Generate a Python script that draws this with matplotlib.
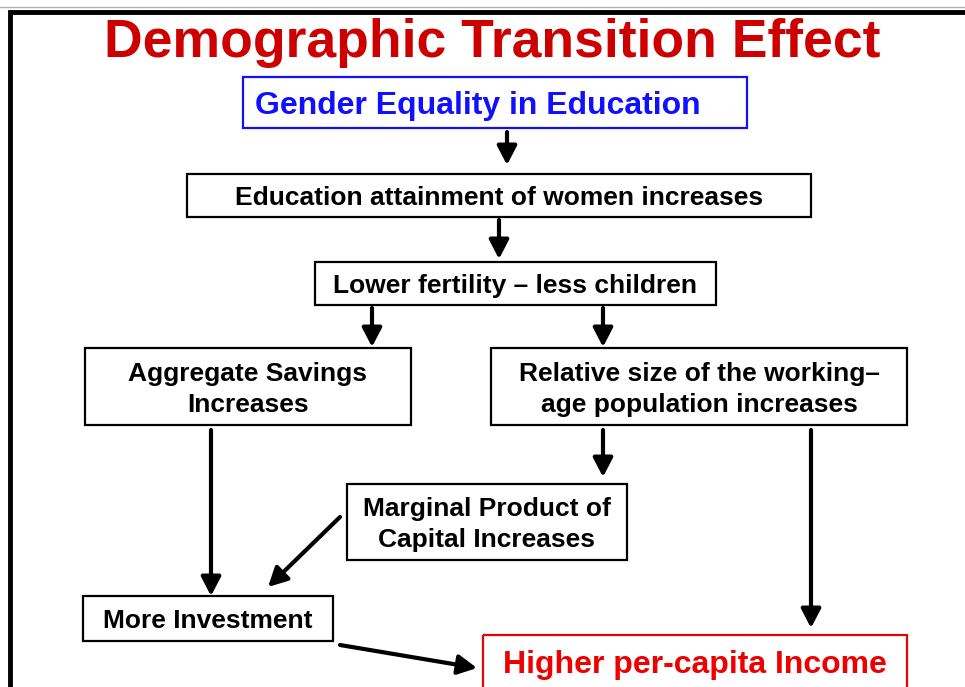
import matplotlib.pyplot as plt
from matplotlib.patches import Rectangle

plt.rcParams['font.family'] = ['Liberation Sans', 'DejaVu Sans']

title = "Demographic Transition Effect"

labels = [
    "Gender Equality in Education",
    "Education attainment of women increases",
    "Lower fertility \u2013 less children",
    "Aggregate Savings\nIncreases",
    "Relative size of the working\u2013\nage population increases",
    "Marginal Product of\nCapital Increases",
    "More Investment",
    "Higher per-capita Income",
]

# box edges in pixels: left, top, right, bottom
boxes = [
    (243, 77, 747, 128),
    (187, 174, 811, 217),
    (315, 262, 716, 305),
    (85, 348, 411, 425),
    (491, 348, 907, 425),
    (347, 484, 627, 560),
    (83, 596, 333, 641),
    (483, 635, 907, 690),
]
text_x = [478, 499, 515, 248, 699, 487, 208, 695]
text_y = [103, 196, 284, 387, 387, 522, 619, 662]
text_col = ['#1010ff', 'black', 'black', 'black', 'black', 'black', 'black', '#ee0000']
edge_col = ['#1010ff', 'black', 'black', 'black', 'black', 'black', 'black', '#ee0000']
text_size = [23, 19, 19, 19, 19, 19, 19, 23]

# arrows: start -> end, in pixels
arrows = [
    ((507, 132), (507, 165)),
    ((499, 220), (499, 259)),
    ((372, 308), (372, 347)),
    ((603, 308), (603, 347)),
    ((211, 430), (211, 596)),
    ((603, 430), (603, 477)),
    ((811, 430), (811, 628)),
    ((340, 517), (268, 587)),
    ((340, 645), (477, 668)),
]

fig = plt.figure(figsize=(9.65, 6.87), dpi=100)
ax = fig.add_axes([0, 0, 1, 1])
ax.set_xlim(0, 965)
ax.set_ylim(687, 0)
ax.axis('off')

# slide frame
ax.plot([0, 965], [7, 7], color='#b0b0b0', lw=1)
ax.plot([10, 10, 965], [690, 11.5, 11.5], color='black', lw=3.5, solid_joinstyle='miter')

ax.text(492, 57, title, color='#cc0000', fontsize=38.5, fontweight='bold',
        ha='center', va='baseline')

for (l, t, r, b), lab, tx, ty, tc, ec, fs in zip(boxes, labels, text_x, text_y,
                                                 text_col, edge_col, text_size):
    ax.add_patch(Rectangle((l, t), r - l, b - t, fill=False, edgecolor=ec, lw=1.6))
    px = fs * 100 / 72
    cap = 0.716 * px
    step = 1.17 * px
    lines = lab.split('\n')
    first = ty + cap / 2 - step * (len(lines) - 1) / 2
    for i, line in enumerate(lines):
        ax.text(tx, first + i * step, line, color=tc, fontsize=fs, fontweight='bold',
                ha='center', va='baseline')

for s, e in arrows:
    ax.annotate('', xy=e, xytext=s,
                arrowprops=dict(arrowstyle='-|>,head_length=0.52,head_width=0.27',
                                color='black', lw=3,
                                mutation_scale=22, shrinkA=0, shrinkB=0))

fig.savefig('out.png', dpi=100)
